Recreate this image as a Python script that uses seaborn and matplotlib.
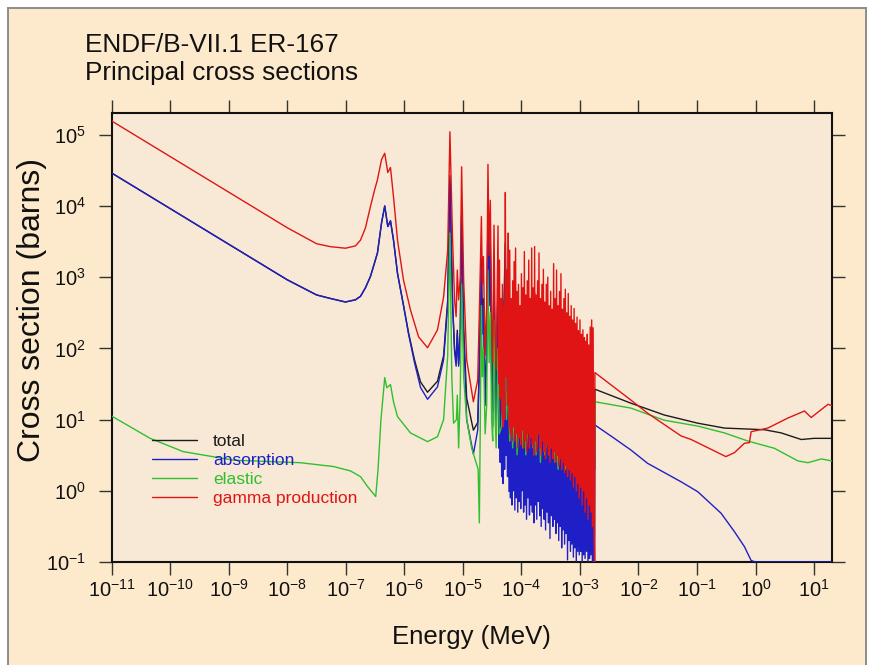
import numpy as np
import matplotlib
matplotlib.use("Agg")
import matplotlib.pyplot as plt
import seaborn as sns
from matplotlib.lines import Line2D
from matplotlib.patches import Rectangle
from matplotlib.ticker import LogLocator, NullLocator, LogFormatterSciNotation

# ---------------------------------------------------------------------------
# ENDF/B-VII.1 Er-167 principal cross sections (energy in MeV, sigma in barns)
# ---------------------------------------------------------------------------

# thermal / low-resonance region: total and absorption share one energy grid
low_e = [1e-11, 1e-10, 1e-9, 1e-8, 3.16e-8, 5.45e-8, 9.84e-8, 1.46e-7, 1.78e-7, 2.16e-7,
         2.63e-7, 3.09e-7, 3.47e-7, 4.07e-7, 4.62e-7, 5.21e-7, 5.79e-7, 6.52e-7, 7.64e-7, 9.66e-7,
         1.18e-6, 1.49e-6, 1.89e-6, 2.49e-6, 3.68e-6, 4.68e-6, 5.50e-6, 6.00e-6, 6.67e-6, 7.21e-6,
         7.66e-6, 8.02e-6, 8.45e-6, 9.02e-6, 9.51e-6, 1.03e-5, 1.16e-5, 1.51e-5, 1.79e-5, 1.93e-5,
         2.07e-5, 2.15e-5, 2.24e-5, 2.40e-5, 2.55e-5, 2.68e-5, 2.81e-5, 2.94e-5, 3.10e-5, 3.23e-5,
         3.40e-5, 3.56e-5, 3.70e-5]

absorption_low = [2.90e4, 9.17e3, 2.90e3, 916, 562, 501, 447, 480, 537, 708,
                  1.02e3, 1.58e3, 2.19e3, 5.75e3, 1.00e4, 5.13e3, 6.17e3, 3.31e3, 1.12e3, 398,
                  158, 63.1, 28.2, 19.3, 28.8, 69.2, 398, 2.24e4, 398, 89.1,
                  56.2, 158, 56.2, 158, 7.08e3, 158, 10.0, 3.29, 7.08, 79.4,
                  1.41e3, 158, 398, 15.8, 79.4, 7.94e3, 398, 2.51e3, 39.8, 7.94,
                  1.00e3, 25.1, 6.31]

total_low = [2.90e4, 9.18e3, 2.90e3, 919, 564, 503, 449, 482, 539, 709,
             1.02e3, 1.58e3, 2.19e3, 5.76e3, 1.00e4, 5.16e3, 6.20e3, 3.33e3, 1.13e3, 406,
             165, 69.0, 33.7, 24.2, 34.6, 79.0, 477, 2.66e4, 438, 98.0,
             66.0, 180, 60.0, 183, 7.87e3, 198, 20.0, 7.10, 9.10, 79.8,
             1.81e3, 198, 498, 22.0, 95.0, 9.20e3, 461, 2.83e3, 50.0, 13.0,
             1.25e3, 35.0, 10.3]

gamma_low_e = [1e-11, 1e-10, 1e-9, 1e-8, 3.16e-8, 5.45e-8, 9.84e-8, 1.46e-7, 1.78e-7, 2.16e-7,
               2.63e-7, 3.09e-7, 3.47e-7, 4.07e-7, 4.62e-7, 5.21e-7, 5.79e-7, 6.52e-7, 7.64e-7, 9.66e-7,
               1.27e-6, 1.75e-6, 2.49e-6, 3.68e-6, 4.68e-6, 5.50e-6, 6.00e-6, 6.67e-6, 7.21e-6, 7.66e-6,
               8.02e-6, 8.45e-6, 9.02e-6, 9.51e-6, 1.03e-5, 1.16e-5, 1.51e-5, 1.79e-5, 1.93e-5, 2.07e-5,
               2.15e-5, 2.24e-5, 2.40e-5, 2.55e-5, 2.68e-5, 2.81e-5, 2.94e-5, 3.10e-5, 3.23e-5, 3.40e-5,
               3.56e-5, 3.70e-5]

gamma_low = [1.56e5, 4.94e4, 1.56e4, 4.94e3, 2.95e3, 2.68e3, 2.55e3, 2.75e3, 3.31e3, 4.90e3,
             9.77e3, 1.66e4, 2.34e4, 4.47e4, 5.50e4, 2.95e4, 3.47e4, 1.35e4, 3.31e3, 912,
             347, 145, 102, 182, 525, 2.40e3, 1.10e5, 3.31e3, 479, 279,
             1.26e3, 479, 1.0e3, 3.55e4, 912, 69, 17.8, 36, 479, 7.1e3,
             794, 1.95e3, 79, 398, 3.85e4, 2.0e3, 1.2e4, 251, 63, 5.37e3,
             158, 50]

elastic_low_e = [1e-11, 4.52e-11, 1.66e-10, 1.20e-9, 1.66e-8, 6.17e-8, 1.20e-7, 1.78e-7, 2.40e-7, 3.24e-7,
                 3.55e-7, 3.98e-7, 4.62e-7, 5.01e-7, 5.79e-7, 6.52e-7, 7.64e-7, 1.27e-6, 2.49e-6, 3.68e-6,
                 4.68e-6, 5.50e-6, 6.00e-6, 6.46e-6, 6.92e-6, 7.76e-6, 8.02e-6, 8.45e-6, 9.02e-6, 9.51e-6,
                 1.03e-5, 1.16e-5, 1.41e-5, 1.82e-5, 1.91e-5, 2.07e-5, 2.15e-5, 2.24e-5, 2.40e-5, 2.55e-5,
                 2.68e-5, 2.81e-5, 2.94e-5, 3.10e-5, 3.23e-5, 3.40e-5, 3.56e-5, 3.70e-5]

elastic_low = [11.2, 5.46, 3.55, 2.69, 2.48, 2.19, 1.90, 1.58, 1.12, 0.83,
               2.0, 10.0, 38.9, 28.0, 31.0, 17.8, 11.0, 6.5, 4.9, 5.75,
               10.0, 79.0, 4.17e3, 40.0, 8.9, 10.0, 22.0, 4.0, 25.0, 794,
               40.0, 10.0, 4.0, 2.0, 0.355, 398, 40.0, 100, 6.3, 16.0,
               1.26e3, 63.0, 316, 10.0, 5.0, 251, 10.0, 4.0]

# resolved resonance region up to 1.8 keV (gamma production and absorption)
resolved_e = [3.981e-5, 4.097e-5, 4.217e-5, 4.340e-5, 4.467e-5, 4.597e-5, 4.732e-5, 4.870e-5, 5.012e-5, 5.158e-5,
              5.309e-5, 5.464e-5, 5.623e-5, 5.788e-5, 5.957e-5, 6.131e-5, 6.310e-5, 6.494e-5, 6.683e-5, 6.879e-5,
              7.079e-5, 7.286e-5, 7.499e-5, 7.718e-5, 7.943e-5, 8.175e-5, 8.414e-5, 8.660e-5, 8.913e-5, 9.173e-5,
              9.441e-5, 9.716e-5, 1.000e-4, 1.029e-4, 1.059e-4, 1.090e-4, 1.122e-4, 1.155e-4, 1.189e-4, 1.223e-4,
              1.259e-4, 1.296e-4, 1.334e-4, 1.372e-4, 1.413e-4, 1.454e-4, 1.496e-4, 1.540e-4, 1.585e-4, 1.631e-4,
              1.679e-4, 1.728e-4, 1.778e-4, 1.830e-4, 1.884e-4, 1.939e-4, 1.995e-4, 2.054e-4, 2.113e-4, 2.175e-4,
              2.239e-4, 2.304e-4, 2.371e-4, 2.441e-4, 2.512e-4, 2.585e-4, 2.661e-4, 2.738e-4, 2.818e-4, 2.901e-4,
              2.985e-4, 3.073e-4, 3.162e-4, 3.255e-4, 3.350e-4, 3.447e-4, 3.548e-4, 3.652e-4, 3.758e-4, 3.868e-4,
              3.981e-4, 4.097e-4, 4.217e-4, 4.340e-4, 4.467e-4, 4.597e-4, 4.732e-4, 4.870e-4, 5.012e-4, 5.158e-4,
              5.309e-4, 5.464e-4, 5.623e-4, 5.788e-4, 5.957e-4, 6.131e-4, 6.310e-4, 6.494e-4, 6.683e-4, 6.879e-4,
              7.079e-4, 7.286e-4, 7.499e-4, 7.718e-4, 7.943e-4, 8.175e-4, 8.414e-4, 8.660e-4, 8.913e-4, 9.173e-4,
              9.441e-4, 9.716e-4, 1.000e-3, 1.029e-3, 1.059e-3, 1.090e-3, 1.122e-3, 1.155e-3, 1.189e-3, 1.223e-3,
              1.259e-3, 1.296e-3, 1.334e-3, 1.372e-3, 1.413e-3, 1.454e-3, 1.496e-3, 1.540e-3, 1.585e-3, 1.631e-3,
              1.679e-3, 1.728e-3, 1.778e-3]

gamma_resolved = [5.25e3, 31.6, 1.74e3, 20.0, 501, 12.6, 794, 7.94, 398, 10.0,
                  1.55e4, 39.8, 1.26e3, 15.8, 4.17e3, 7.94, 2.40e3, 6.31, 501, 5.01,
                  891, 7.94, 1.66e3, 5.01, 2.57e3, 6.31, 631, 3.98, 794, 5.62,
                  398, 4.47, 1.12e3, 7.08, 708, 3.98, 2.29e3, 5.01, 562, 3.55,
                  891, 6.31, 1.74e3, 3.98, 501, 5.62, 2.57e3, 4.47, 708, 3.16,
                  2.69e3, 5.01, 562, 3.55, 891, 6.31, 2.19e3, 3.98, 501, 3.16,
                  794, 5.01, 1.29e3, 3.55, 447, 2.82, 794, 4.47, 1.00e3, 3.16,
                  398, 2.51, 631, 3.98, 355, 2.82, 1.55e3, 3.55, 501, 2.51,
                  1.26e3, 3.16, 398, 2.24, 631, 2.82, 1.12e3, 2.00, 355, 2.51,
                  501, 1.78, 676, 2.24, 316, 1.58, 589, 2.00, 282, 1.41,
                  398, 1.78, 251, 1.12, 363, 1.58, 224, 1.00, 275, 1.26,
                  178, 0.794, 251, 1.12, 158, 0.631, 182, 1.00, 141, 0.501,
                  126, 0.794, 158, 0.398, 112, 0.631, 200, 0.501, 251, 0.316,
                  195, 0.398, 0.032]

absorption_resolved = [1.00e3, 3.98, 316, 2.51, 79.4, 1.58, 126, 1.26, 63.1, 2.00,
                       2.82e3, 3.16, 200, 1.58, 794, 0.977, 447, 0.794, 79.4, 0.631,
                       141, 1.00, 282, 0.537, 501, 0.794, 100, 0.501, 126, 0.708,
                       63.1, 0.562, 200, 1.00, 112, 0.501, 398, 0.631, 89.1, 0.398,
                       141, 0.794, 316, 0.457, 79.4, 0.631, 501, 0.501, 112, 0.355,
                       501, 0.631, 89.1, 0.398, 141, 0.708, 398, 0.447, 79.4, 0.316,
                       126, 0.562, 251, 0.398, 70.8, 0.282, 126, 0.501, 200, 0.355,
                       63.1, 0.214, 100, 0.447, 56.2, 0.316, 282, 0.398, 79.4, 0.251,
                       251, 0.355, 63.1, 0.200, 100, 0.316, 200, 0.158, 56.2, 0.282,
                       79.4, 0.178, 126, 0.251, 50.1, 0.107, 100, 0.200, 44.7, 0.141,
                       63.1, 0.178, 39.8, 0.117, 70.8, 0.158, 35.5, 0.079, 50.1, 0.141,
                       28.2, 0.126, 50.1, 0.141, 25.1, 0.063, 35.5, 0.126, 25.1, 0.112,
                       22.4, 0.141, 28.2, 0.063, 20.0, 0.112, 35.5, 0.126, 50.1, 0.040,
                       35.5, 0.100, 0.032]

elastic_resolved_e = [3.98e-5, 4.17e-5, 4.57e-5, 5.31e-5, 5.56e-5, 5.96e-5, 6.31e-5, 6.68e-5, 7.08e-5, 7.94e-5,
                      8.41e-5, 1.00e-4, 1.06e-4, 1.12e-4, 1.19e-4, 1.50e-4, 1.58e-4, 1.68e-4, 1.78e-4, 2.00e-4,
                      2.11e-4, 2.37e-4, 2.51e-4, 3.55e-4, 3.76e-4, 3.98e-4, 4.22e-4, 5.31e-4, 5.62e-4, 7.94e-4,
                      8.41e-4, 1.12e-3, 1.19e-3, 1.58e-3, 1.68e-3, 1.78e-3]

elastic_resolved = [100, 6.3, 7.9, 100, 10, 40, 5.0, 40, 4.0, 50,
                    3.2, 30, 4.0, 50, 3.2, 50, 4.0, 60, 3.2, 30,
                    2.5, 25, 3.2, 30, 2.5, 20, 2.0, 15, 2.0, 12,
                    1.6, 10, 1.6, 8.0, 2.0, 3.2]

total_resolved_e = [3.98e-5, 4.47e-5, 5.31e-5, 5.62e-5, 5.96e-5, 7.08e-5, 7.94e-5, 8.41e-5, 1.12e-4, 1.19e-4,
                    1.50e-4, 1.58e-4, 1.68e-4, 1.78e-4, 2.00e-4, 2.11e-4, 2.51e-4, 3.55e-4, 3.76e-4, 3.98e-4,
                    4.22e-4, 5.62e-4, 6.31e-4, 7.94e-4, 8.41e-4, 1.12e-3, 1.26e-3, 1.58e-3, 1.68e-3, 1.78e-3]

total_resolved = [1.06e3, 8.0, 3.1e3, 10.0, 880, 6.0, 580, 5.0, 480, 5.0,
                  580, 6.0, 600, 5.0, 450, 4.0, 5.0, 330, 4.0, 280,
                  3.5, 3.0, 2.5, 85, 2.0, 52, 1.5, 60, 2.5, 2.0]

# unresolved / fast region
gamma_high_e = [1.80e-3, 7.41e-3, 1.43e-2, 5.32e-2, 7.94e-2, 0.311, 0.435, 0.646, 0.785, 0.840,
                1.62, 3.56, 6.85, 8.93, 17.3, 20.0]
gamma_high = [45.7, 18.8, 12.3, 5.9, 5.25, 3.02, 3.43, 4.65, 4.74, 6.76,
              7.6, 10.5, 13.2, 10.7, 16.4, 15.7]

absorption_high_e = [1.80e-3, 3.85e-3, 7.41e-3, 1.43e-2, 5.32e-2, 0.103, 0.258, 0.435, 0.646, 0.840,
                     1.0, 5.0, 20.0]
absorption_high = [8.4, 5.46, 3.74, 2.43, 1.34, 0.97, 0.483, 0.267, 0.164, 0.105,
                   0.07, 0.02, 0.01]

elastic_high_e = [1.80e-3, 7.41e-3, 2.75e-2, 0.103, 0.293, 0.738, 2.10, 5.28, 7.85, 13.3, 20.0]
elastic_high = [17.8, 14.5, 9.8, 8.1, 6.5, 5.0, 3.95, 2.63, 2.48, 2.80, 2.63]

total_high_e = [1.80e-3, 7.41e-3, 2.75e-2, 0.103, 0.293, 1.42, 2.74, 6.03, 10.0, 20.0]
total_high = [26.7, 17.0, 11.6, 8.9, 7.6, 7.2, 6.5, 5.25, 5.45, 5.45]

series_labels = ["total", "absorption", "elastic", "gamma production"]
series_colors = ["#1c1c1c", "#1f1fc8", "#2fbf2f", "#e01414"]

XLIM = (1e-11, 2e1)
YLIM = (1e-1, 2e5)

# ---------------------------------------------------------------------------
sns.set_style("ticks")
plt.rcParams["font.family"] = ["Liberation Sans", "DejaVu Sans"]
plt.rcParams["mathtext.fontset"] = "custom"
plt.rcParams["mathtext.rm"] = "Liberation Sans"
plt.rcParams["mathtext.it"] = "Liberation Sans:italic"
plt.rcParams["mathtext.bf"] = "Liberation Sans:bold"

PAGE = "#fde9cb"
PLOT_BG = "#f8e9d6"

fig = plt.figure(figsize=(8.72, 6.65), dpi=100)
fig.patch.set_facecolor("#ffffff")
fig.add_artist(Rectangle((8 / 872, -0.02), (866 - 8) / 872, 1.02 - 8 / 665,
                         transform=fig.transFigure, facecolor=PAGE,
                         edgecolor="#8c8c8c", lw=1.4, zorder=-5))

ax = fig.add_axes([0.1281, 0.1549, 0.8257, 0.6747])
ax.set_facecolor(PLOT_BG)
ax.set_xscale("log")
ax.set_yscale("log")


def draw(energy, xs, color):
    # values below the frame floor are drawn along the bottom edge
    y = np.clip(np.asarray(xs, dtype=float), YLIM[0], None)
    sns.lineplot(x=np.asarray(energy, dtype=float), y=y, ax=ax, color=color,
                 lw=1.0, sort=False, estimator=None, legend=False, zorder=3)


# drawing order: total, absorption, elastic, then gamma production on top
draw(low_e + total_resolved_e + total_high_e,
     total_low + total_resolved + total_high, series_colors[0])
draw(low_e + resolved_e + absorption_high_e,
     absorption_low + absorption_resolved + absorption_high, series_colors[1])
draw(elastic_low_e + elastic_resolved_e + elastic_high_e,
     elastic_low + elastic_resolved + elastic_high, series_colors[2])
draw(gamma_low_e + resolved_e + gamma_high_e,
     gamma_low + gamma_resolved + gamma_high, series_colors[3])

ax.set_xlim(*XLIM)
ax.set_ylim(*YLIM)

ax.xaxis.set_major_locator(LogLocator(base=10.0, subs=(1.0,), numticks=40))
ax.yaxis.set_major_locator(LogLocator(base=10.0, subs=(1.0,), numticks=40))
ax.xaxis.set_major_formatter(LogFormatterSciNotation())
ax.yaxis.set_major_formatter(LogFormatterSciNotation())
ax.xaxis.set_minor_locator(NullLocator())
ax.yaxis.set_minor_locator(NullLocator())

for side in ["left", "right", "top", "bottom"]:
    ax.spines[side].set_visible(True)
    ax.spines[side].set_color("#111111")
    ax.spines[side].set_linewidth(1.5)

ax.tick_params(axis="both", which="major", direction="out", length=9.5, width=1.0,
               color="#333333", labelsize=14.5, labelcolor="#111111",
               top=True, right=True, labeltop=False, labelright=False)
ax.tick_params(axis="x", pad=3)
ax.tick_params(axis="y", pad=9)

ax.set_xlabel("Energy (MeV)", fontsize=18.5, color="#111111")
ax.set_ylabel("Cross section (barns)", fontsize=23, color="#111111")
ax.xaxis.set_label_coords(0.5, -0.14)
ax.yaxis.set_label_coords(-0.09, 0.561)

fig.text(85 / 872, 1 - 52 / 665, "ENDF/B-VII.1 ER-167", fontsize=18.8,
         color="#111111", ha="left", va="baseline")
fig.text(85 / 872, 1 - 80 / 665, "Principal cross sections", fontsize=18.8,
         color="#111111", ha="left", va="baseline")

handles = [Line2D([], [], color=c, lw=1.0) for c in series_colors]
leg = ax.legend(handles, series_labels, loc="upper left", bbox_to_anchor=(0.056, 0.285),
                frameon=False, fontsize=12.5, handlelength=2.6, handletextpad=0.92,
                labelspacing=0.21, borderpad=0.0, borderaxespad=0.0)
for text, c in zip(leg.get_texts(), series_colors):
    text.set_color(c)

fig.savefig("out.png", dpi=100, facecolor=fig.get_facecolor())
